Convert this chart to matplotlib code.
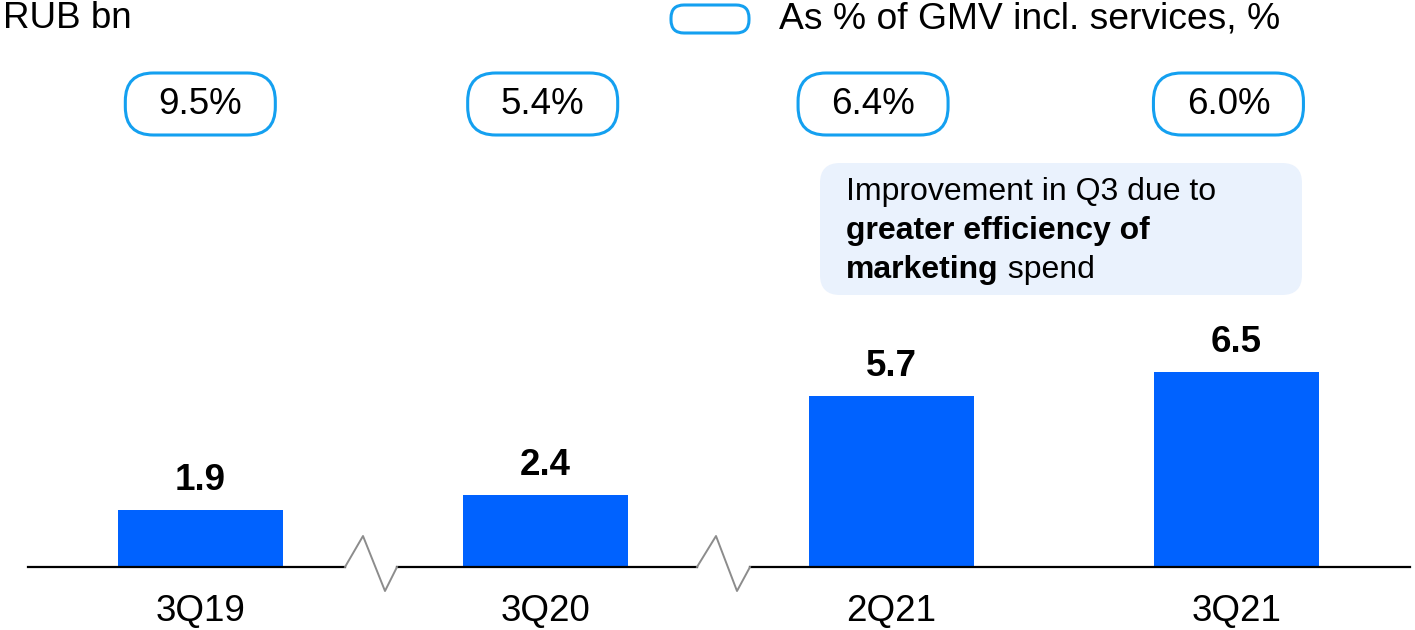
import matplotlib
matplotlib.use("Agg")
import matplotlib.pyplot as plt
import matplotlib.transforms as mtransforms
from matplotlib.patches import FancyBboxPatch

plt.rcParams['font.family'] = ['Liberation Sans', 'DejaVu Sans']

# data
quarters = ['3Q19', '3Q20', '2Q21', '3Q21']
marketing = [1.9, 2.4, 5.7, 6.5]           # RUB bn
share_gmv = ['9.5%', '5.4%', '6.4%', '6.0%']  # as % of GMV incl. services

bar_color = '#0062FF'
pill_color = '#14A0F0'
box_color = '#EAF2FD'

W, H = 1415, 630
fig = plt.figure(figsize=(W / 100, H / 100), dpi=100)
ax = fig.add_axes([0, 0, 1, 1])
ax.axis('off')

x = list(range(len(quarters)))
ax.bar(x, marketing, width=0.478, color=bar_color, zorder=2)
ax.set_xlim(-0.58, 3.517)
ax.set_ylim(-2.1, 18.9)

# pixel coordinates measured from top-left of the picture
pix = mtransforms.Affine2D().scale(1 / 100, -1 / 100).translate(0, H / 100) + fig.dpi_scale_trans
xpix = mtransforms.blended_transform_factory(ax.transData, pix)

# values above bars
for xi, v in zip(x, marketing):
    ax.annotate(f'{v:.1f}', (xi, v), xytext=(0, 21), textcoords='offset points',
                ha='center', va='center', fontsize=26.5, fontweight='bold')

# category labels
for xi, q in zip(x, quarters):
    ax.text(xi, 612, q, transform=xpix, ha='center', va='center', fontsize=26.5)

# baseline with axis breaks
base_y = 567
segs = [(28, 345), (397, 697), (750, 1410)]
for a, b in segs:
    ax.plot([a, b], [base_y, base_y], color='black', lw=1.6, transform=pix, clip_on=False)
for zz in ([345, 363, 385, 397], [697, 716, 737, 750]):
    ax.plot(zz, [567, 536, 591, 567], color='#8C8C8C', lw=1.4, transform=pix, clip_on=False)

# percentage pills
pill_shift = [0, -3, -18, -8]
for xi, s, lab in zip(x, pill_shift, share_gmv):
    cx = ax.transData.transform((xi, 0))[0] + s
    cy = 104
    p = FancyBboxPatch((cx - 75, cy - 31), 150, 62,
                       boxstyle='round,pad=0,rounding_size=28',
                       fc='white', ec=pill_color, lw=2.2, transform=pix)
    fig.add_artist(p)
    fig.text(cx, cy + 1, lab, transform=pix, ha='center', va='center', fontsize=26.5)

# legend
fig.add_artist(FancyBboxPatch((671, 5), 78, 28, boxstyle='round,pad=0,rounding_size=13',
                              fc='white', ec=pill_color, lw=2.2, transform=pix))
fig.text(779, 19, 'As % of GMV incl. services, %', transform=pix, ha='left', va='center', fontsize=26.8)
fig.text(3, 19, 'RUB bn', transform=pix, ha='left', va='center', fontsize=26.5)

# comment box
fig.add_artist(FancyBboxPatch((820, 163), 482, 132, boxstyle='round,pad=0,rounding_size=20',
                              fc=box_color, ec='none', transform=pix))
fs = 23
fig.text(846, 200, 'Improvement in Q3 due to', transform=pix, fontsize=fs, va='baseline')
fig.text(846, 239, 'greater efficiency of', transform=pix, fontsize=fs, va='baseline', fontweight='bold')
t = fig.text(846, 278, 'marketing', transform=pix, fontsize=fs, va='baseline', fontweight='bold')
r = fig.canvas.get_renderer()
ext = t.get_window_extent(renderer=r)
fig.text(ext.x1, (H - 278), ' spend', transform=None, fontsize=fs, va='baseline')

fig.savefig('out.png', dpi=100)
